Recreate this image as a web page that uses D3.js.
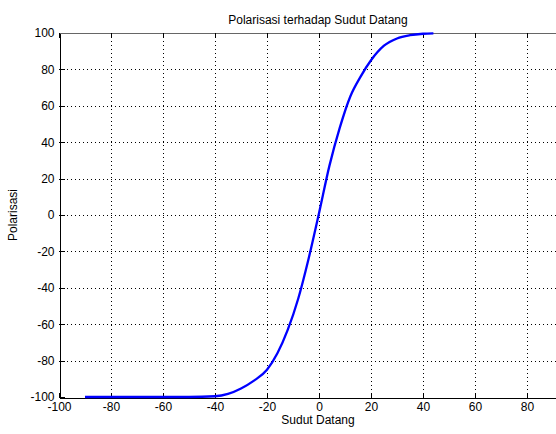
<!DOCTYPE html>
<html>
<head>
<meta charset="utf-8">
<script src="https://cdn.jsdelivr.net/npm/d3@7"></script>
<style>
  html, body { margin: 0; padding: 0; background: #fff; }
  svg { display: block; }
  text { font-family: "Liberation Sans", Arial, Helvetica, sans-serif; }
</style>
</head>
<body>
<svg id="chart" width="556" height="434"></svg>
<script>
// ---- data ----
const sudutDatang = [-90, -80, -70, -60, -50, -40, -35, -30, -25, -20, -16, -12, -8, -4, 0, 4, 8, 12, 16, 20, 25, 30, 35, 40, 44];
const polarisasi  = [-100, -100, -100, -100, -100, -99.6, -98.3, -95.3, -91, -85, -76, -63, -46, -24, 1, 27, 48, 65, 76, 85, 93, 97, 98.8, 99.6, 99.8];
const xTicks = [-100, -80, -60, -40, -20, 0, 20, 40, 60, 80];
const yTicks = [-100, -80, -60, -40, -20, 0, 20, 40, 60, 80, 100];
const gridX = [-80, -60, -40, -20, 0, 20, 40, 60, 80];
const gridY = [-80, -60, -40, -20, 0, 20, 40, 60, 80];
const titleText = "Polarisasi terhadap Sudut Datang";
const xLabelText = "Sudut Datang";
const yLabelText = "Polarisasi";

// ---- layout ----
const svg = d3.select("#chart");
const pL = 59, pR = 579, pT = 33, pB = 397;

const x = d3.scaleLinear().domain([-100, 100]).range([pL, pR]);
const y = d3.scaleLinear().domain([-100, 100]).range([pB, pT]);

// grid
const grid = svg.append("g").attr("stroke", "#000").attr("stroke-width", 1).attr("stroke-dasharray", "1,3");
grid.selectAll("line.gx").data(gridX).enter().append("line")
  .attr("x1", d => Math.round(x(d)) + 0.5).attr("x2", d => Math.round(x(d)) + 0.5)
  .attr("y1", pT).attr("y2", pB);
grid.selectAll("line.gy").data(gridY).enter().append("line")
  .attr("y1", d => Math.round(y(d)) + 0.5).attr("y2", d => Math.round(y(d)) + 0.5)
  .attr("x1", pL).attr("x2", 556);

// axes
const fmt = d => String(d);
const xAxis = svg.append("g").attr("transform", `translate(0,${pB + 0.5})`)
  .call(d3.axisBottom(x).tickValues(xTicks).tickFormat(fmt).tickSizeInner(-5).tickSizeOuter(0).tickPadding(5));
const yAxis = svg.append("g").attr("transform", `translate(${pL + 0.5},0)`)
  .call(d3.axisLeft(y).tickValues(yTicks).tickFormat(fmt).tickSizeInner(-5).tickSizeOuter(0).tickPadding(5));
const xTop = svg.append("g").attr("transform", `translate(0,${pT})`)
  .call(d3.axisTop(x).tickValues(xTicks).tickFormat("").tickSizeInner(-5).tickSizeOuter(0));

[xAxis, yAxis, xTop].forEach(g => {
  g.selectAll("path, line").attr("stroke", "#000").attr("shape-rendering", "crispEdges");
  g.selectAll("text").attr("font-size", 12).attr("fill", "#000")
    .attr("font-family", "'Liberation Sans', Arial, sans-serif");
});
xTop.select("path").attr("stroke", "#666").attr("shape-rendering", null);

// curve
const line = d3.line().x((d, i) => x(sudutDatang[i])).y(d => y(d)).curve(d3.curveMonotoneX);
svg.append("path").datum(polarisasi)
  .attr("d", line)
  .attr("fill", "none")
  .attr("stroke", "#0000ff")
  .attr("stroke-width", 2.3)
  .attr("stroke-linejoin", "round");

// labels
svg.append("text").attr("x", (pL + pR) / 2 - 1).attr("y", 24)
  .attr("text-anchor", "middle").attr("font-size", 12).text(titleText);
svg.append("text").attr("x", (pL + pR) / 2 - 1).attr("y", 424)
  .attr("text-anchor", "middle").attr("font-size", 12).text(xLabelText);
svg.append("text").attr("transform", `translate(17,${(pT + pB) / 2}) rotate(-90)`)
  .attr("text-anchor", "middle").attr("font-size", 12).text(yLabelText);
</script>
</body>
</html>
